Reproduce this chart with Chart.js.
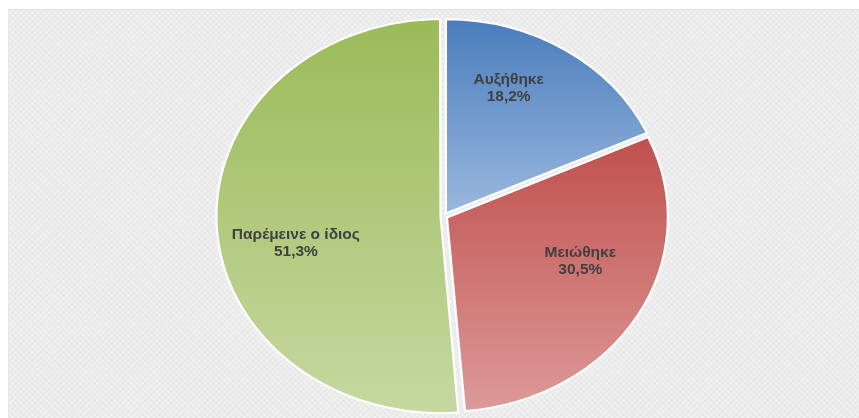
<!DOCTYPE html>
<html>
<head>
<meta charset="utf-8">
<script src="https://cdn.jsdelivr.net/npm/chart.js@4"></script>
<style>
  html, body { margin: 0; padding: 0; background: #fff; }
  #panel {
    position: absolute; left: 8px; top: 9px; width: 851px; height: 409px;
    background-color: #f1f1f1;
    background-image: repeating-linear-gradient(45deg, rgba(0,0,0,0.018) 0 2px, transparent 2px 4px),
                      repeating-linear-gradient(-45deg, rgba(0,0,0,0.018) 0 2px, transparent 2px 4px);
    border-top: 1px solid #e2e2e2; border-left: 1px solid #e6e6e6;
    box-sizing: border-box;
  }
  #myChart { position: absolute; left: 0; top: 0; }
</style>
</head>
<body>
<div id="panel"></div>
<canvas id="myChart" width="859" height="418"></canvas>
<script>
const categorias = ["Αυξήθηκε", "Μειώθηκε", "Παρέμεινε ο ίδιος"];
const porcentajes = [18.2, 30.5, 51.3];
const etiquetas = ["18,2%", "30,5%", "51,3%"];

// colores arriba / abajo del degradado
const coloresArriba = ["#4a7dbc", "#c0504d", "#9bbb59"];
const coloresAbajo = ["#9ab8de", "#dc9a99", "#c6d8a0"];

// posicion de las etiquetas: [angulo en grados, fraccion del radio]
const posEtiquetas = [[24, 0.72], [110.7, 0.66], [258, 0.686]];

const RADIO = 194;
const ESTIRAR_X = 1.138; // el pastel original esta estirado a lo ancho

const myChart = document.getElementById("myChart");

const angulosSlice = (i) => {
  const total = porcentajes.reduce((a, b) => a + b, 0);
  let inicio = 0;
  for (let k = 0; k < i; k++) inicio += porcentajes[k];
  return [inicio / total * 360, (inicio + porcentajes[i]) / total * 360];
};

const degradado = (context) => {
  const chart = context.chart;
  const area = chart.chartArea;
  const i = context.dataIndex;
  if (!area) return coloresArriba[i];
  const cy = (area.top + area.bottom) / 2;
  const [a0, a1] = angulosSlice(i);
  const ys = [0];
  [a0, a1].forEach((a) => ys.push(-Math.cos(a * Math.PI / 180)));
  if (a0 <= 0) ys.push(-1);
  if (a0 <= 180 && a1 >= 180) ys.push(1);
  const y0 = cy + Math.min(...ys) * RADIO;
  const y1 = cy + Math.max(...ys) * RADIO;
  const g = chart.ctx.createLinearGradient(0, y0, 0, y1);
  g.addColorStop(0, coloresArriba[i]);
  g.addColorStop(1, coloresAbajo[i]);
  return g;
};

const estirar = {
  id: "estirar",
  beforeDatasetsDraw(chart) {
    const a = chart.chartArea;
    const cx = (a.left + a.right) / 2;
    const ctx = chart.ctx;
    ctx.save();
    ctx.translate(cx, 0);
    ctx.scale(ESTIRAR_X, 1);
    ctx.translate(-cx, 0);
  },
  afterDatasetsDraw(chart) {
    chart.ctx.restore();
    // etiquetas
    const a = chart.chartArea;
    const cx = (a.left + a.right) / 2;
    const cy = (a.top + a.bottom) / 2;
    const ctx = chart.ctx;
    ctx.save();
    ctx.font = "bold 15.5px 'Liberation Sans', Arial, sans-serif";
    ctx.fillStyle = "#404040";
    ctx.textAlign = "center";
    ctx.textBaseline = "middle";
    categorias.forEach((cat, i) => {
      const [ang, f] = posEtiquetas[i];
      const rad = ang * Math.PI / 180;
      const x = cx + Math.sin(rad) * RADIO * f * ESTIRAR_X;
      const y = cy - Math.cos(rad) * RADIO * f;
      ctx.fillText(cat, x, y - 8.5);
      ctx.fillText(etiquetas[i], x, y + 8.5);
    });
    ctx.restore();
  },
};

new Chart(myChart, {
  type: "pie",
  data: {
    labels: categorias,
    datasets: [
      {
        data: porcentajes,
        backgroundColor: degradado,
        borderColor: "#ffffff",
        borderWidth: 2,
        offset: 12,
        radius: RADIO,
      },
    ],
  },
  options: {
    responsive: false,
    animation: false,
    layout: { padding: { left: 29, right: 0, top: 14, bottom: 0 } },
    plugins: {
      legend: { display: false },
      tooltip: { enabled: false },
    },
  },
  plugins: [estirar],
});
</script>
</body>
</html>
